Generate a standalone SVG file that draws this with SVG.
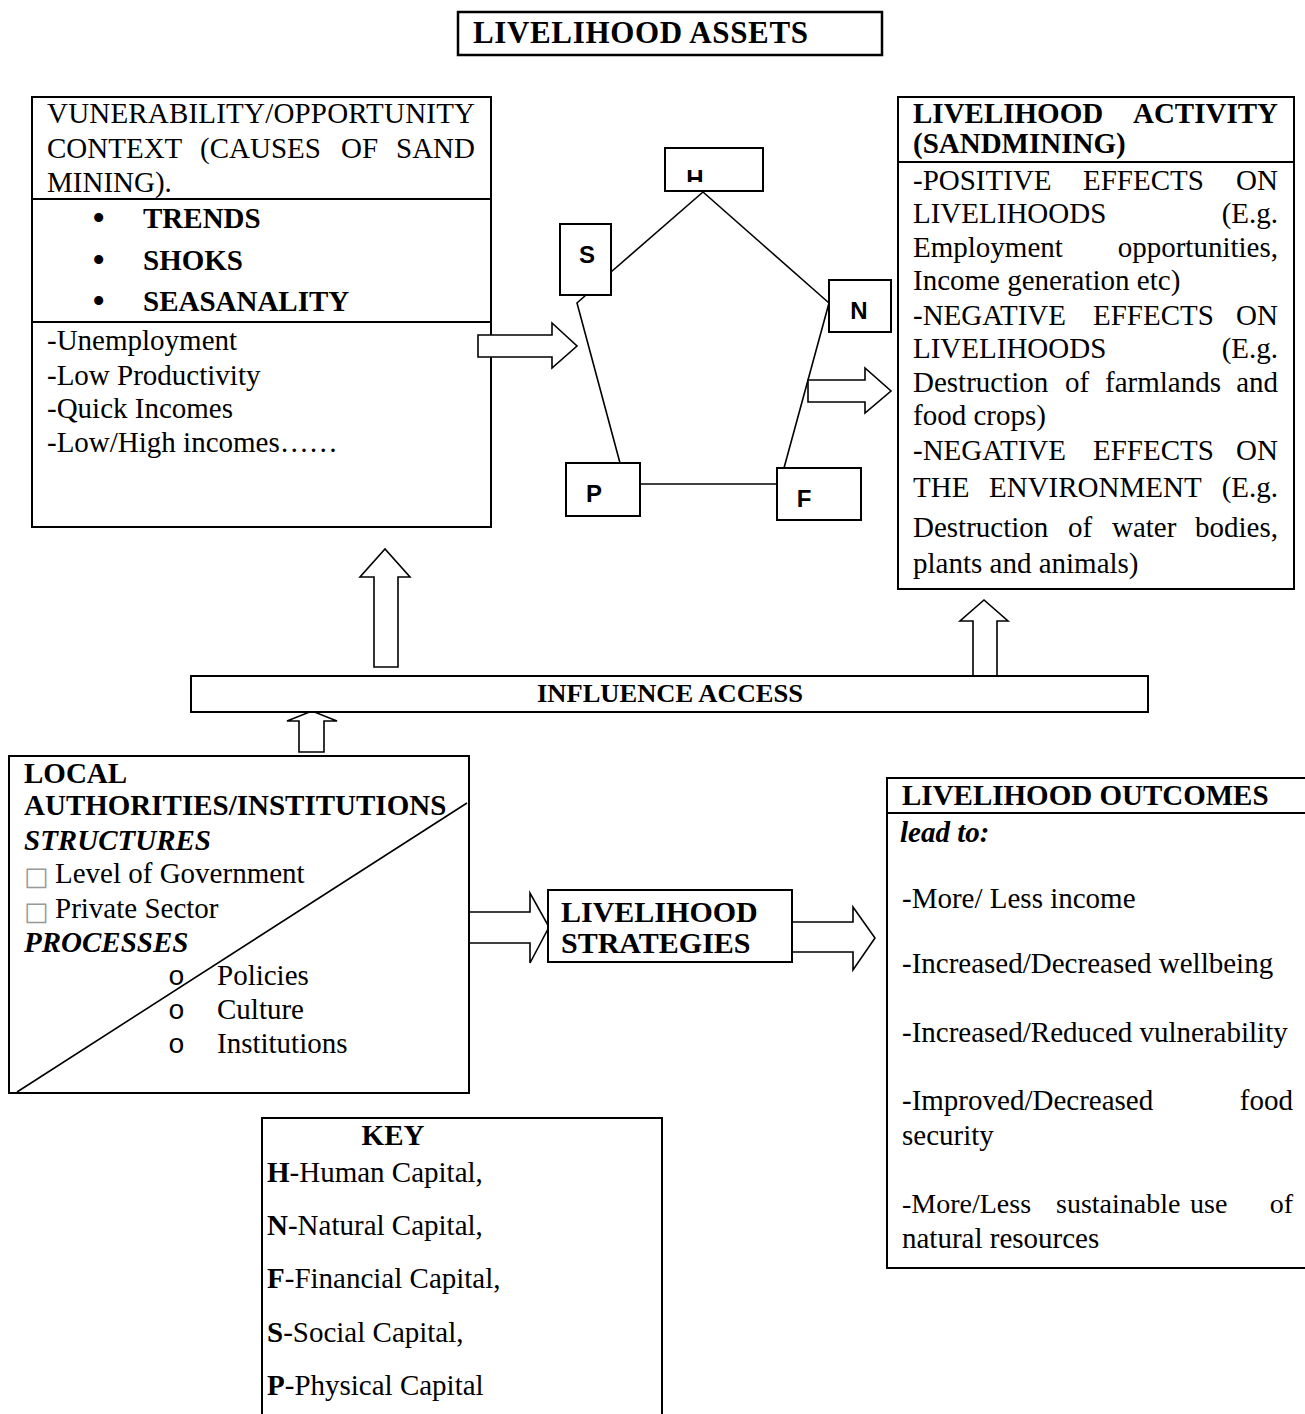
<svg xmlns="http://www.w3.org/2000/svg" width="1305" height="1414" viewBox="0 0 1305 1414">
<style>
.t{font-family:"Liberation Serif","Times New Roman",serif;font-size:29px;fill:#000}
.b{font-weight:bold}
.i{font-style:italic}
.e{text-anchor:end}
.m{text-anchor:middle}
.lbl{font-family:"Liberation Sans",Arial,sans-serif;font-weight:bold;font-size:24px;text-anchor:middle;fill:#000}
.box{fill:#fff;stroke:#000;stroke-width:2}
.ln{stroke:#000;stroke-width:1.6;fill:none}
.arr{fill:#fff;stroke:#000;stroke-width:1.6;stroke-linejoin:miter}
.sq{font-family:"DejaVu Sans",sans-serif;font-size:26px;fill:#999}
.bul{font-family:"Liberation Serif","Times New Roman",serif;font-size:38px;fill:#000}
.o{font-family:"Liberation Mono","Courier New",monospace;font-size:28px;fill:#000}
</style>
<defs>
<clipPath id="hclip"><rect x="665" y="165" width="98" height="17"/></clipPath>
</defs>
<rect width="1305" height="1414" fill="#fff"/>

<g id="title">
<rect x="458" y="12" width="424" height="43" fill="#fff" stroke="#000" stroke-width="2.5"/>
<text class="t b" x="473" y="43" style="font-size:31px" textLength="335" lengthAdjust="spacing">LIVELIHOOD ASSETS</text>
</g>

<g id="vulnerability">
<rect class="box" x="32" y="97" width="459" height="430"/>
<line class="ln" x1="32" y1="199" x2="491" y2="199" style="stroke-width:2"/>
<line class="ln" x1="32" y1="322" x2="491" y2="322" style="stroke-width:2"/>
<text class="t" x="47" y="123" textLength="428" lengthAdjust="spacing">VUNERABILITY/OPPORTUNITY</text>
<text class="t" x="47" y="158">CONTEXT</text>
<text class="t" x="200" y="158">(CAUSES</text>
<text class="t" x="341" y="158">OF</text>
<text class="t e" x="475" y="158">SAND</text>
<text class="t" x="47" y="192">MINING).</text>
<text class="bul" x="92" y="231">•</text>
<text class="t b" x="143" y="228">TRENDS</text>
<text class="bul" x="92" y="273">•</text>
<text class="t b" x="143" y="270">SHOKS</text>
<text class="bul" x="92" y="314">•</text>
<text class="t b" x="143" y="311">SEASANALITY</text>
<text class="t" x="47" y="350">-Unemployment</text>
<text class="t" x="47" y="385">-Low Productivity</text>
<text class="t" x="47" y="418">-Quick Incomes</text>
<text class="t" x="47" y="452">-Low/High incomes……</text>
</g>

<g id="activity">
<rect class="box" x="898" y="97" width="396" height="492"/>
<line class="ln" x1="898" y1="162" x2="1294" y2="162" style="stroke-width:2"/>
<text class="t b" x="913" y="123">LIVELIHOOD</text>
<text class="t b e" x="1278" y="123">ACTIVITY</text>
<text class="t b" x="913" y="153">(SANDMINING)</text>
<text class="t" x="913" y="190">-POSITIVE</text>
<text class="t" x="1083" y="190">EFFECTS</text>
<text class="t e" x="1278" y="190">ON</text>
<text class="t" x="913" y="223">LIVELIHOODS</text>
<text class="t e" x="1278" y="223">(E.g.</text>
<text class="t" x="913" y="257">Employment</text>
<text class="t e" x="1278" y="257">opportunities,</text>
<text class="t" x="913" y="290">Income generation etc)</text>
<text class="t" x="913" y="325">-NEGATIVE</text>
<text class="t" x="1093" y="325">EFFECTS</text>
<text class="t e" x="1278" y="325">ON</text>
<text class="t" x="913" y="358">LIVELIHOODS</text>
<text class="t e" x="1278" y="358">(E.g.</text>
<text class="t" x="913" y="392">Destruction</text>
<text class="t" x="1065" y="392">of</text>
<text class="t" x="1105" y="392">farmlands</text>
<text class="t e" x="1278" y="392">and</text>
<text class="t" x="913" y="425">food crops)</text>
<text class="t" x="913" y="460">-NEGATIVE</text>
<text class="t" x="1093" y="460">EFFECTS</text>
<text class="t e" x="1278" y="460">ON</text>
<text class="t" x="913" y="497">THE</text>
<text class="t" x="989" y="497">ENVIRONMENT</text>
<text class="t e" x="1278" y="497">(E.g.</text>
<text class="t" x="913" y="537">Destruction</text>
<text class="t" x="1068" y="537">of</text>
<text class="t" x="1112" y="537">water</text>
<text class="t e" x="1278" y="537">bodies,</text>
<text class="t" x="913" y="573">plants and animals)</text>
</g>

<g id="connectors">
<line class="ln" x1="703" y1="192" x2="611" y2="272"/>
<line class="ln" x1="703" y1="192" x2="829" y2="303"/>
<polyline class="ln" points="586,295 577,303 620,463"/>
<line class="ln" x1="829" y1="303" x2="784" y2="468"/>
<line class="ln" x1="640" y1="484" x2="777" y2="484"/>
<polygon class="arr" points="478,335 552,335 552,323 577,346 552,368 552,357 478,357"/>
<polygon class="arr" points="808,380 865,380 865,368 891,391 865,413 865,402 808,402"/>
<polygon class="arr" points="374,667 374,577 360,577 385,549 410,577 398,577 398,667"/>
<polygon class="arr" points="973,678 973,621 960,621 984,600 1008,621 997,621 997,678"/>
<polygon class="arr" points="299,752 299,721 287,721 312,711 337,721 324,721 324,752"/>
<polygon class="arr" points="467,912 530,912 530,893 549,927 530,963 530,943 467,943"/>
<polygon class="arr" points="792,922 853,922 853,907 875,938 853,970 853,952 792,952"/>
</g>

<g id="node-H">
<rect class="box" x="665" y="148" width="98" height="43"/>
<text class="lbl" x="695" y="187" clip-path="url(#hclip)">H</text>
</g>
<g id="node-S">
<rect class="box" x="560" y="224" width="51" height="71"/>
<text class="lbl" x="587" y="263">S</text>
</g>
<g id="node-N">
<rect class="box" x="829" y="280" width="62" height="52"/>
<text class="lbl" x="859" y="319">N</text>
</g>
<g id="node-P">
<rect class="box" x="566" y="463" width="74" height="53"/>
<text class="lbl" x="594" y="502">P</text>
</g>
<g id="node-F">
<rect class="box" x="777" y="468" width="84" height="52"/>
<text class="lbl" x="804" y="507">F</text>
</g>

<g id="influence">
<rect class="box" x="191" y="676" width="957" height="36"/>
<text class="t b m" x="670" y="702" style="font-size:26px" textLength="266" lengthAdjust="spacingAndGlyphs">INFLUENCE ACCESS</text>
</g>

<g id="local">
<rect class="box" x="9" y="756" width="460" height="337"/>
<line class="ln" x1="17" y1="1092" x2="467" y2="803"/>
<text class="t b" x="24" y="783">LOCAL</text>
<text class="t b" x="24" y="815">AUTHORITIES/INSTITUTIONS</text>
<text class="t b i" x="24" y="850">STRUCTURES</text>
<text class="sq" x="24" y="885">□</text>
<text class="t" x="55" y="883">Level of Government</text>
<text class="sq" x="24" y="920">□</text>
<text class="t" x="55" y="918">Private Sector</text>
<text class="t b i" x="24" y="952">PROCESSES</text>
<text class="o" x="168" y="985">o</text>
<text class="t" x="217" y="985">Policies</text>
<text class="o" x="168" y="1019">o</text>
<text class="t" x="217" y="1019">Culture</text>
<text class="o" x="168" y="1053">o</text>
<text class="t" x="217" y="1053">Institutions</text>
</g>

<g id="strategies">
<rect class="box" x="548" y="890" width="244" height="72"/>
<text class="t b" x="561" y="922" style="font-size:30px">LIVELIHOOD</text>
<text class="t b" x="561" y="953" style="font-size:30px">STRATEGIES</text>
</g>

<g id="outcomes">
<rect class="box" x="887" y="778" width="430" height="490"/>
<line class="ln" x1="887" y1="813" x2="1305" y2="813" style="stroke-width:2"/>
<text class="t b" x="902" y="805">LIVELIHOOD OUTCOMES</text>
<text class="t b i" x="900" y="842">lead to:</text>
<text class="t" x="902" y="908">-More/ Less income</text>
<text class="t" x="902" y="973">-Increased/Decreased wellbeing</text>
<text class="t" x="902" y="1042">-Increased/Reduced vulnerability</text>
<text class="t" x="902" y="1110">-Improved/Decreased</text>
<text class="t e" x="1293" y="1110">food</text>
<text class="t" x="902" y="1145">security</text>
<text class="t" x="902" y="1213" style="font-size:28px">-More/Less</text>
<text class="t" x="1056" y="1213" style="font-size:28px">sustainable</text>
<text class="t" x="1190" y="1213" style="font-size:28px">use</text>
<text class="t e" x="1293" y="1213" style="font-size:28px">of</text>
<text class="t" x="902" y="1248">natural resources</text>
</g>

<g id="key">
<rect class="box" x="262" y="1118" width="400" height="310"/>
<text class="t b m" x="393" y="1145">KEY</text>
<text class="t" x="267" y="1182"><tspan class="b">H</tspan>-Human Capital,</text>
<text class="t" x="267" y="1235"><tspan class="b">N</tspan>-Natural Capital,</text>
<text class="t" x="267" y="1288"><tspan class="b">F</tspan>-Financial Capital,</text>
<text class="t" x="267" y="1342"><tspan class="b">S</tspan>-Social Capital,</text>
<text class="t" x="267" y="1395"><tspan class="b">P</tspan>-Physical Capital</text>
</g>
</svg>
